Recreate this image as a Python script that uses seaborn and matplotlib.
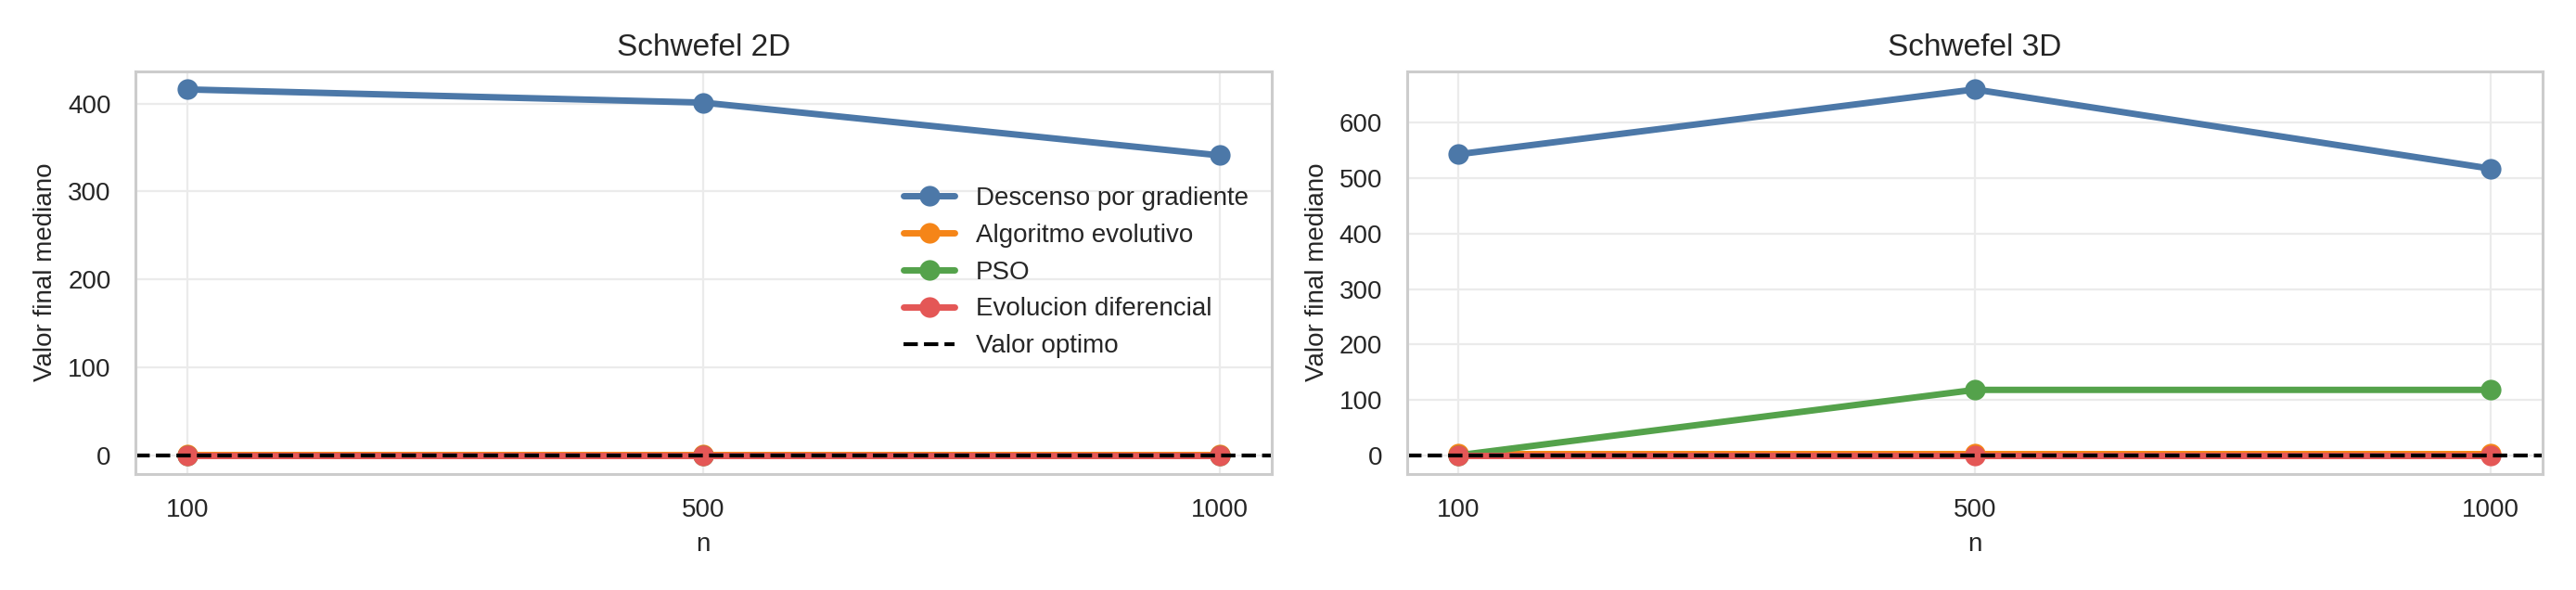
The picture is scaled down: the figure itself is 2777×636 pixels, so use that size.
import matplotlib
matplotlib.use('Agg')
import matplotlib.pyplot as plt
from matplotlib.ticker import MultipleLocator
import seaborn as sns
import numpy as np

sns.set_theme(style='whitegrid')
plt.rcParams['font.family'] = ['Liberation Sans', 'DejaVu Sans']

n_vals = ['100', '500', '1000']
methods = ['Descenso por gradiente', 'Algoritmo evolutivo', 'PSO', 'Evolucion diferencial']
colors = ['#4c78a8', '#f58518', '#54a24b', '#e45756']

# valores finales medianos
schwefel_2d = {
    'Descenso por gradiente': [416, 401, 341],
    'Algoritmo evolutivo': [0.5, 0.5, 0.5],
    'PSO': [0.0, 0.0, 0.0],
    'Evolucion diferencial': [0.0, 0.0, 0.0],
}
schwefel_3d = {
    'Descenso por gradiente': [543, 660, 517],
    'Algoritmo evolutivo': [3, 3, 3],
    'PSO': [0.0, 118, 118],
    'Evolucion diferencial': [0.0, 0.0, 0.0],
}
optimo = 0.0

fig, axes = plt.subplots(1, 2, figsize=(2777 / 200, 636 / 200), dpi=200)
x = np.arange(len(n_vals))

for ax, data, title in zip(axes, [schwefel_2d, schwefel_3d], ['Schwefel 2D', 'Schwefel 3D']):
    for m, c in zip(methods, colors):
        sns.lineplot(x=x, y=data[m], ax=ax, color=c, marker='o', markersize=8,
                     markeredgewidth=0, linewidth=2.5, label=m)
    ax.axhline(optimo, color='black', linestyle='--', linewidth=1.5, label='Valor optimo')
    ax.set_xticks(x)
    ax.set_xticklabels(n_vals)
    ax.yaxis.set_major_locator(MultipleLocator(100))
    ax.set_title(title, fontsize=12)
    ax.set_xlabel('n', fontsize=10)
    ax.set_ylabel('Valor final mediano', fontsize=10)
    ax.tick_params(labelsize=10)
    for s in ax.spines.values():
        s.set_edgecolor('#cccccc')
        s.set_linewidth(1.1)
    ax.grid(color='#ebebeb', linewidth=0.8)

axes[0].legend(loc='center right', frameon=False, fontsize=10)
axes[1].get_legend().remove()

plt.tight_layout()
plt.savefig('out.png', dpi=200)
